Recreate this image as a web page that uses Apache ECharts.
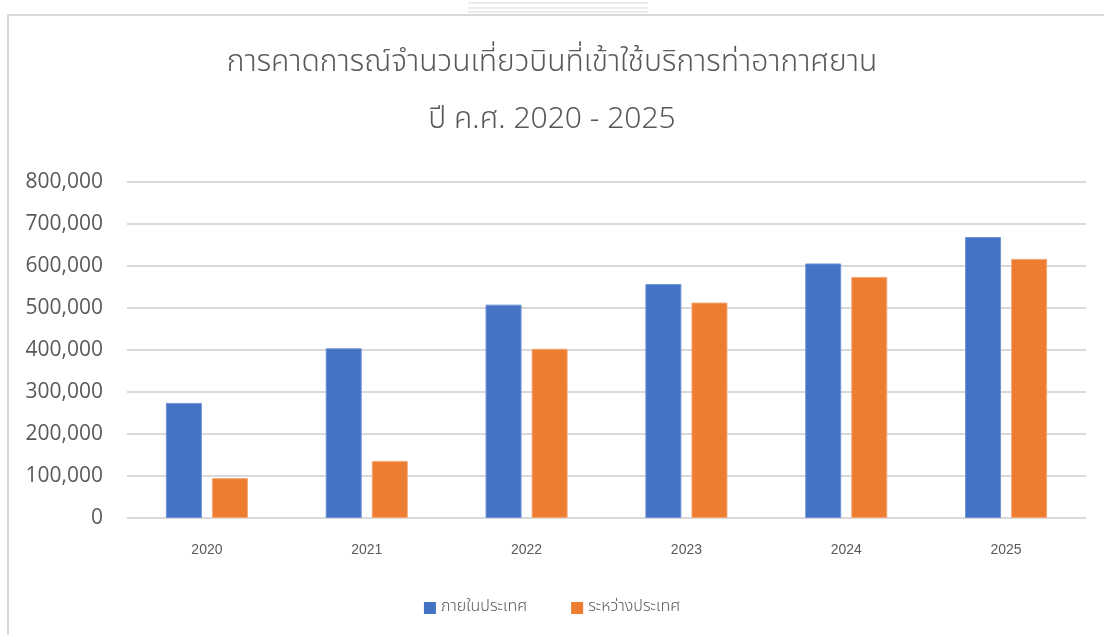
<!DOCTYPE html>
<html>
<head>
<meta charset="utf-8">
<script src="https://cdn.jsdelivr.net/npm/echarts@6/dist/echarts.min.js"></script>
<style>
  html, body { margin: 0; padding: 0; background: #ffffff; }
  #chart { width: 1104px; height: 635px; }
</style>
</head>
<body>
<div id="chart"></div>
<script>
// Forecast of flights using the airport, 2020 - 2025
const years = ['2020', '2021', '2022', '2023', '2024', '2025'];
const domestic = [274000, 404000, 508000, 557000, 606000, 669000];
const international = [95000, 136000, 403000, 513000, 574000, 617000];
const seriesNames = ['ภายในประเทศ', 'ระหว่างประเทศ'];
const titleLines = ['การคาดการณ์จำนวนเที่ยวบินที่เข้าใช้บริการท่าอากาศยาน', 'ปี ค.ศ. 2020 - 2025'];

const chart = echarts.init(document.getElementById('chart'));

const textGray = '#595959';
const thaiFont = '"Noto Sans Thai", "Noto Sans", "DejaVu Sans", sans-serif';

chart.setOption({
  backgroundColor: '#ffffff',
  animation: false,
  title: [
    {
      text: titleLines[0],
      left: 'center',
      top: 45,
      textStyle: { color: textGray, fontSize: 30, fontWeight: 300, fontFamily: thaiFont }
    },
    {
      text: titleLines[1],
      left: 'center',
      top: 102,
      textStyle: { color: textGray, fontSize: 30, fontWeight: 300, fontFamily: thaiFont }
    }
  ],
  graphic: [
    {
      type: 'rect',
      shape: { x: 8, y: 15, width: 1200, height: 800 },
      style: { fill: 'none', stroke: '#d9d9d9', lineWidth: 2 },
      silent: true
    },
    // faint emblem strokes above the frame
    { type: 'line', shape: { x1: 468, y1: 3, x2: 648, y2: 3 }, style: { stroke: '#ececec', lineWidth: 2 }, silent: true },
    { type: 'line', shape: { x1: 468, y1: 8, x2: 648, y2: 8 }, style: { stroke: '#ececec', lineWidth: 2 }, silent: true },
    { type: 'line', shape: { x1: 468, y1: 12, x2: 648, y2: 12 }, style: { stroke: '#ececec', lineWidth: 2 }, silent: true }
  ],
  legend: {
    bottom: 14,
    left: 'center',
    itemWidth: 12,
    itemHeight: 12,
    itemGap: 44,
    icon: 'rect',
    itemStyle: { borderWidth: 0 },
    textStyle: { color: textGray, fontSize: 16, fontWeight: 300, fontFamily: thaiFont }
  },
  grid: { left: 127, right: 18, top: 182, bottom: 117 },
  xAxis: {
    type: 'category',
    data: years,
    axisLine: { lineStyle: { color: '#d9d9d9', width: 1 } },
    axisTick: { show: false },
    axisLabel: { color: textGray, fontSize: 14, margin: 25, fontFamily: 'Liberation Sans, Arial, sans-serif' }
  },
  yAxis: {
    type: 'value',
    min: 0,
    max: 800000,
    interval: 100000,
    axisLine: { show: false },
    axisTick: { show: false },
    splitLine: { lineStyle: { color: '#d9d9d9', width: 2 } },
    axisLabel: {
      color: textGray,
      fontSize: 21,
      margin: 24,
      fontFamily: '"Open Sans", "Noto Sans", sans-serif',
      formatter: v => v.toLocaleString('en-US')
    }
  },
  series: [
    {
      name: seriesNames[0],
      type: 'bar',
      data: domestic,
      barWidth: 36,
      barGap: '28%',
      itemStyle: { color: '#4472C4', borderColor: '#6f93d6', borderWidth: 1 }
    },
    {
      name: seriesNames[1],
      type: 'bar',
      data: international,
      barWidth: 36,
      itemStyle: { color: '#ED7D31', borderColor: '#f4a877', borderWidth: 1 }
    }
  ]
});
</script>
</body>
</html>
